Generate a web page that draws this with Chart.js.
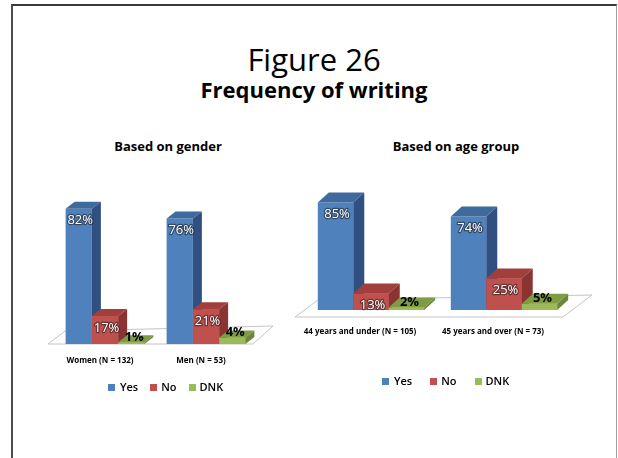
<!DOCTYPE html>
<html>
<head>
<meta charset="utf-8">
<script src="https://cdn.jsdelivr.net/npm/chart.js@4.4.0/dist/chart.umd.min.js"></script>
<style>
  html, body { margin: 0; padding: 0; background: #fff; }
  #page { position: relative; width: 618px; height: 458px; overflow: hidden; font-family: "Open Sans", sans-serif; color: #000; }
  #frame { position: absolute; left: 11px; top: 4px; width: 603px; height: 470px;
           border-left: 2px solid #4d4d4d; border-top: 2px solid #3a3a3a; border-right: 1px solid #a0a0a0; }
  .txt { position: absolute; width: 300px; text-align: center; white-space: nowrap; line-height: 1; }
  canvas { position: absolute; }
  .legend { position: absolute; font-size: 11px; font-weight: 600; line-height: 16px; white-space: nowrap; }
  .legend span { display: inline-block; }
  .legend i { display: inline-block; width: 7px; height: 7px; vertical-align: 0px; }
</style>
</head>
<body>
<div id="page">
  <div id="frame"></div>
  <div class="txt" style="left:164px;top:44px;font-size:31px;">Figure 26</div>
  <div class="txt" style="left:164px;top:78px;font-size:22px;font-weight:bold;">Frequency of writing</div>
  <div class="txt" style="left:18px;top:140px;font-size:13px;font-weight:bold;">Based on gender</div>
  <div class="txt" style="left:306px;top:140px;font-size:13px;font-weight:bold;">Based on age group</div>

  <canvas id="chGender" width="260" height="215" style="left:30px;top:170px;"></canvas>
  <canvas id="chAge" width="318" height="190" style="left:290px;top:170px;"></canvas>

  <div class="legend" id="lgGender" style="left:108px;top:379px;"></div>
  <div class="legend" id="lgAge" style="left:382px;top:373px;"></div>
</div>

<script>
// answer categories
const answerLabels = ['Yes', 'No', 'DNK'];

// by gender
const genderCats = ['Women (N = 132)', 'Men (N = 53)'];
const genderYes = [82, 76];
const genderNo  = [17, 21];
const genderDnk = [1, 4];

// by age group
const ageCats = ['44 years and under (N = 105)', '45 years and over (N = 73)'];
const ageYes = [85, 74];
const ageNo  = [13, 25];
const ageDnk = [2, 5];

// front / top / side shades for the 3d columns
const faceColors = {
    front: ['#4f81bd', '#c0504d', '#9bbb59'],
    top:   ['#3f6a9e', '#a13f3c', '#7f9c45'],
    side:  ['#2f5081', '#8a3331', '#6a8638']
};

function drawFaces(ctx, bars, i, dx, dy){
    bars.forEach(bar => {
        const {x, y, base, width} = bar.getProps(['x','y','base','width'], true);
        const l = x - width/2, r = x + width/2;
        ctx.fillStyle = faceColors.top[i];
        ctx.beginPath();
        ctx.moveTo(l, y); ctx.lineTo(l+dx, y+dy); ctx.lineTo(r+dx, y+dy); ctx.lineTo(r, y);
        ctx.closePath(); ctx.fill();
        ctx.fillStyle = faceColors.side[i];
        ctx.beginPath();
        ctx.moveTo(r, y); ctx.lineTo(r+dx, y+dy); ctx.lineTo(r+dx, base+dy); ctx.lineTo(r, base);
        ctx.closePath(); ctx.fill();
    });
}

// fake 3d: floor plate under the columns, top + side faces, value labels
const bar3d = {
    id: 'bar3d',
    beforeDatasetsDraw(chart, args, opts){
        const {ctx, chartArea:a, scales:{y}} = chart;
        const f = opts.floor;
        const base = y.getPixelForValue(0) + f.front;
        const x0 = a.left - f.left, x1 = a.right - f.right;
        ctx.save();
        ctx.beginPath();
        ctx.moveTo(x0, base);
        ctx.lineTo(x1, base);
        ctx.lineTo(x1 + f.backRight[0], base + f.backRight[1]);
        ctx.lineTo(x0 + f.backLeft[0], base + f.backLeft[1]);
        ctx.closePath();
        ctx.fillStyle = '#fff'; ctx.fill();
        ctx.strokeStyle = '#c4c4c4'; ctx.lineWidth = 1; ctx.stroke();
        ctx.restore();
    },
    afterDatasetsDraw(chart, args, opts){
        const {ctx} = chart;
        const [dx, dy] = opts.depth;
        ctx.save();
        // left to right: each series' front repaints over the previous series' side face
        chart.data.datasets.forEach((ds, i) => {
            const bars = chart.getDatasetMeta(i).data;
            if(i > 0) bars.forEach(b => b.draw(ctx));
            drawFaces(ctx, bars, i, dx, dy);
        });

        ctx.textAlign = 'center';
        ctx.textBaseline = 'middle';
        ctx.lineJoin = 'round';
        chart.data.datasets.forEach((ds, i) => {
            chart.getDatasetMeta(i).data.forEach((bar, j) => {
                const txt = ds.data[j] + '%';
                if(i < 2){
                    ctx.font = '13px "Open Sans"';
                    ctx.strokeStyle = 'rgba(30,30,30,0.55)';
                    ctx.lineWidth = 2.5;
                    ctx.strokeText(txt, bar.x + 1.5, bar.y + 12);
                    ctx.fillStyle = '#fff';
                    ctx.fillText(txt, bar.x + 1.5, bar.y + 12);
                } else {
                    ctx.font = 'bold 13px "Open Sans"';
                    ctx.fillStyle = '#000';
                    ctx.fillText(txt, bar.x + 3, bar.y - 5);
                }
            });
        });
        ctx.restore();
    }
};

function makeChart(id, cats, series, o){
    return new Chart(document.getElementById(id), {
        type: 'bar',
        data: {
            labels: cats,
            datasets: series.map((vals, i) => ({
                label: answerLabels[i],
                data: vals,
                backgroundColor: faceColors.front[i],
                borderWidth: 0,
                categoryPercentage: o.cat,
                barPercentage: 1
            }))
        },
        options: {
            responsive: false,
            animation: false,
            layout: { padding: o.padding },
            plugins: {
                legend: { display: false },
                tooltip: { enabled: false },
                bar3d: { depth: o.depth, floor: o.floor }
            },
            scales: {
                x: {
                    grid: { display: false, drawTicks: false },
                    border: { display: false },
                    ticks: {
                        color: '#000',
                        font: { family: 'Open Sans', weight: 'bold', size: 8 },
                        padding: o.tickPad,
                        labelOffset: o.labelOffset,
                        autoSkip: false,
                        maxRotation: 0
                    }
                },
                y: { display: false, min: 0, max: 100 }
            }
        },
        plugins: [bar3d]
    });
}

function buildLegend(el, chart, gap){
    chart.data.datasets.forEach(ds => {
        const item = document.createElement('span');
        item.style.marginRight = gap + 'px';
        item.innerHTML = `<i style="background:${ds.backgroundColor};margin-right:${ds.label==='Yes'?5:4}px"></i>${ds.label}`;
        el.appendChild(item);
    });
}

const chGender = makeChart('chGender', genderCats, [genderYes, genderNo, genderDnk], {
    cat: 0.78,
    padding: { left: 24.5, right: 33.5, top: 9, bottom: 7.4 },
    tickPad: 12,
    labelOffset: -5,
    depth: [9, -7],
    floor: { front: 0, left: 6.5, right: 3.5, backLeft: [17, -13], backRight: [20, -18] }
});

const chAge = makeChart('chAge', ageCats, [ageYes, ageNo, ageDnk], {
    cat: 0.8,
    padding: { left: 14.5, right: 37.5, top: 13.5, bottom: 6.4 },
    tickPad: 17,
    labelOffset: -11,
    depth: [11, -10],
    floor: { front: 7, left: 9.5, right: 7.5, backLeft: [23, -17], backRight: [29, -22] }
});

buildLegend(document.getElementById('lgGender'), chGender, 12);
buildLegend(document.getElementById('lgAge'), chAge, 18);
</script>
</body>
</html>
